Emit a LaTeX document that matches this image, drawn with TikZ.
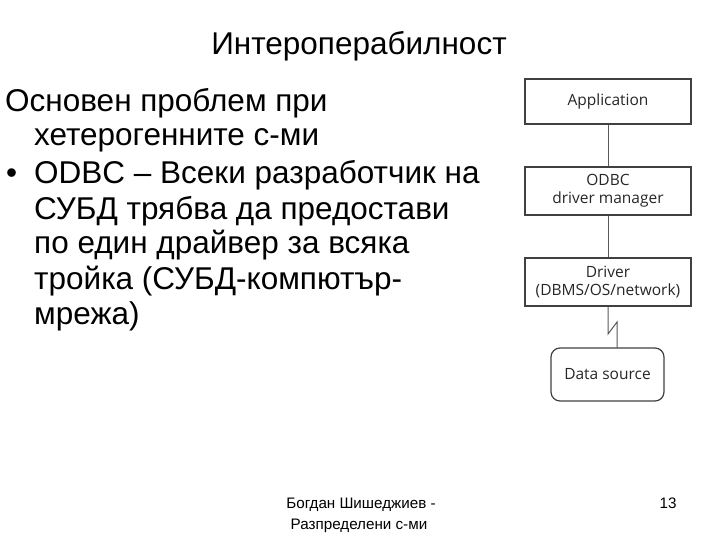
\documentclass[tikz,border=0pt]{standalone}
\usepackage{fontspec}
\setmainfont{Liberation Sans}
\newfontfamily\diag{Open Sans}
\begin{document}
\begin{tikzpicture}[x=1pt,y=-1pt,
  txt/.style={anchor=base west,inner sep=0pt,font=\fontsize{31.5}{36}\selectfont},
  box/.style={draw=black!75,line width=1.2pt,font=\diag\fontsize{15.5}{18}\selectfont,align=center,inner sep=0pt,text=black!85},
  conn/.style={draw=black!65,line width=1pt}]
\useasboundingbox (0,0) rectangle (720,540);
\node[anchor=base,inner sep=0pt,font=\fontsize{31.5}{36}\selectfont] (title) at (359,55) {Интероперабилност};
\node[txt] (l1) at (5,112) {Основен проблем при};
\node[txt] (l2) at (34,146) {хетерогенните с-ми};
\node[txt] (l3) at (6,184) {•};
\node[txt] (l4) at (34,184) {ODBC – Всеки разработчик на};
\node[txt] (l5) at (34,220) {СУБД трябва да предостави};
\node[txt] (l6) at (34,254) {по един драйвер за всяка};
\node[txt] (l7) at (34,289) {тройка (СУБД-компютър-};
\node[txt] (l8) at (34,324) {мрежа)};
\node[box,minimum width=166,minimum height=45] (app) at (608,101.5) {Application};
\node[box,minimum width=166,minimum height=48] (odbc) at (608,191) {ODBC\\driver manager};
\node[box,minimum width=166,minimum height=48] (drv) at (608,282) {Driver\\(DBMS/OS/network)};
\node[box,rounded corners=9pt,minimum width=113,minimum height=53] (ds) at (607.5,374.5) {Data source};
\draw[conn] (app) -- (odbc);
\draw[conn] (odbc) -- (drv);
\draw[conn] (drv.south) -- (608,334) -- (617,322) -- (617,348);
\node[anchor=base,inner sep=0pt,font=\fontsize{15.2}{20}\selectfont] (f1) at (361,508) {Богдан Шишеджиев -};
\node[anchor=base,inner sep=0pt,font=\fontsize{15.2}{20}\selectfont] (f2) at (359,529) {Разпределени с-ми};
\node[anchor=base,inner sep=0pt,font=\fontsize{15.2}{20}\selectfont] (pg) at (668,508) {13};
\end{tikzpicture}
\end{document}
